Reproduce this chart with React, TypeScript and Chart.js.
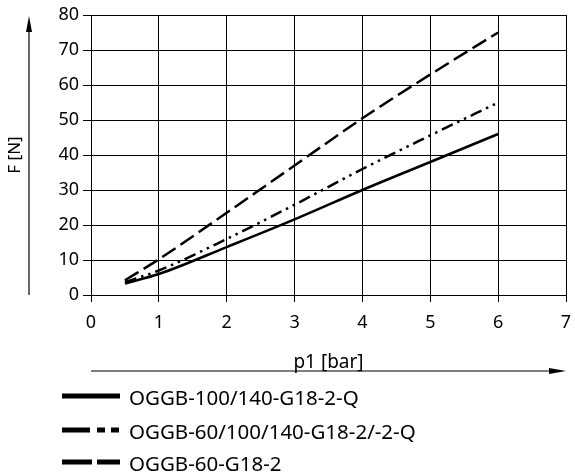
import { useEffect, useRef } from "react";
import { Chart, registerables } from "chart.js";

Chart.register(...registerables);

const pressure = [0.5, 1, 2, 3, 4, 5, 6];
const forceQ = [3.3, 6, 13.7, 21.6, 30, 38, 46];
const forceMulti = [3.7, 7, 16, 25.8, 36, 45.6, 55];
const forceG18 = [4.2, 10.2, 23.5, 37, 50.5, 63, 75];
const seriesLabels = ["OGGB-100/140-G18-2-Q", "OGGB-60/100/140-G18-2/-2-Q", "OGGB-60-G18-2"];
const xAxisTitle = "p1 [bar]";
const yAxisTitle = "F [N]";

const FONT = "'Noto Sans', sans-serif";

const plotDashes = [[], [12, 5, 2.5, 5, 2.5, 5], [16, 6]];
const legendDashes = [[], [28, 7, 8, 6, 8], [30, 5, 23]];

const decorPlugin = {
  id: "decor",
  afterDraw(chart: any) {
    const ctx = chart.ctx;
    const area = chart.chartArea;
    ctx.save();
    ctx.strokeStyle = "#000";
    ctx.fillStyle = "#000";
    // Y arrow
    const ax = 29;
    ctx.lineWidth = 1.2;
    ctx.beginPath();
    ctx.moveTo(ax, area.bottom);
    ctx.lineTo(ax, area.top + 14);
    ctx.stroke();
    ctx.beginPath();
    ctx.moveTo(ax, area.top + 1);
    ctx.lineTo(ax - 3, area.top + 17);
    ctx.lineTo(ax + 3, area.top + 17);
    ctx.closePath();
    ctx.fill();
    // Y title
    ctx.save();
    ctx.translate(15, (area.top + area.bottom) / 2);
    ctx.rotate(-Math.PI / 2);
    ctx.font = `17px ${FONT}`;
    ctx.textAlign = "center";
    ctx.textBaseline = "middle";
    ctx.fillText(yAxisTitle, 0, 0);
    ctx.restore();
    // X arrow
    const ay = 371;
    ctx.beginPath();
    ctx.moveTo(area.left, ay);
    ctx.lineTo(area.right - 14, ay);
    ctx.stroke();
    ctx.beginPath();
    ctx.moveTo(area.right, ay);
    ctx.lineTo(area.right - 17, ay - 3);
    ctx.lineTo(area.right - 17, ay + 3);
    ctx.closePath();
    ctx.fill();
    // X title
    ctx.font = `19px ${FONT}`;
    ctx.textAlign = "center";
    ctx.textBaseline = "alphabetic";
    ctx.fillText(xAxisTitle, (area.left + area.right) / 2, 368);
    // Legend
    const rows = [396, 430, 462];
    chart.data.datasets.forEach((ds: any, i: number) => {
      const y = rows[i];
      ctx.lineWidth = 5;
      ctx.setLineDash(legendDashes[i]);
      ctx.beginPath();
      ctx.moveTo(62, y);
      ctx.lineTo(120, y);
      ctx.stroke();
      ctx.setLineDash([]);
      ctx.font = `20.5px ${FONT}`;
      ctx.textAlign = "left";
      ctx.textBaseline = "middle";
      ctx.fillText(ds.label, 129, y + 3);
    });
    ctx.restore();
  },
};

export default function App() {
  const ref = useRef<HTMLCanvasElement>(null);
  useEffect(() => {
    if (!ref.current) return;
    const mk = (vals: number[], i: number) => ({
      label: seriesLabels[i],
      data: pressure.map((p, k) => ({ x: p, y: vals[k] })),
      borderColor: "#000",
      borderWidth: 2.5,
      borderDash: plotDashes[i],
      pointRadius: 0,
      fill: false,
      cubicInterpolationMode: "monotone" as const,
    });
    const chart = new Chart(ref.current, {
      type: "line",
      data: { datasets: [mk(forceQ, 0), mk(forceMulti, 1), mk(forceG18, 2)] },
      options: {
        animation: false,
        responsive: false,
        devicePixelRatio: 1,
        layout: { padding: { left: 0, right: 9, top: 15, bottom: 0 } },
        plugins: { legend: { display: false }, tooltip: { enabled: false } },
        scales: {
          x: {
            type: "linear",
            min: 0,
            max: 7,
            ticks: { stepSize: 1, color: "#000", font: { family: FONT, size: 18 }, padding: 10 },
            grid: { color: "#000", lineWidth: 1, tickLength: 7 },
            border: { color: "#000", width: 1 },
            afterFit: (s: any) => {
              s.height = 181;
              s.paddingLeft = 0;
              s.paddingRight = 0;
            },
          },
          y: {
            min: 0,
            max: 80,
            ticks: { stepSize: 10, color: "#000", font: { family: FONT, size: 18 }, padding: 4 },
            grid: { color: "#000", lineWidth: 1, tickLength: 8 },
            border: { color: "#000", width: 1 },
            afterFit: (s: any) => {
              s.width = 91;
              s.paddingTop = 0;
              s.paddingBottom = 0;
            },
          },
        },
      },
      plugins: [decorPlugin],
    });
    return () => chart.destroy();
  }, []);
  return (
    <div style={{ position: "absolute", left: 0, top: 0, width: 575, height: 476, background: "#fff" }}>
      <canvas ref={ref} width={575} height={476} style={{ width: 575, height: 476 }} />
    </div>
  );
}
